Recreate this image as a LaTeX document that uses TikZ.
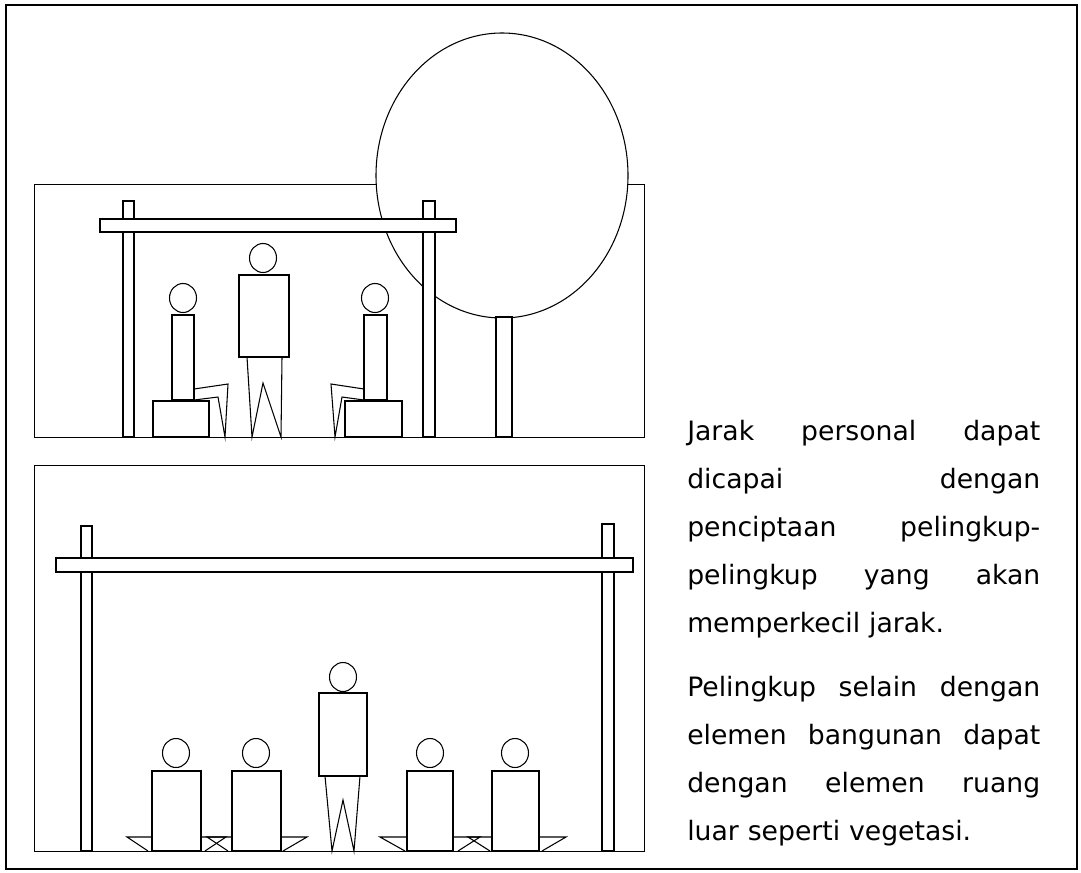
\documentclass[tikz,border=0pt]{standalone}
\usepackage{fontspec}
\setmainfont{DejaVu Sans}
\newlength\colwidth
\setlength\colwidth{264.75pt}
\newcommand\fullline[1]{\hbox to\colwidth{#1}}
\tikzset{outer/.style={draw,line width=1.9pt},
         panel/.style={draw,line width=0.6pt},
         wood/.style={draw,fill=white,line width=0.9pt},
         canopy/.style={draw,fill=white,line width=0.8pt},
         figure/.style={draw,fill=white,line width=0.8pt},
         limb/.style={draw,line width=0.8pt},
         head/.style={x radius=13.5,y radius=14.5},
         caption/.style={anchor=base west,inner sep=0pt,text width=\colwidth,
                         font=\fontsize{20}{36}\selectfont},
        }

\begin{document}
\begin{tikzpicture}[x=0.75pt,y=-0.75pt]
  \useasboundingbox (0,0) rectangle (1081,872);
  \draw[outer] (6,5) rectangle (1077,869);

  % upper scene: pergola with a tree beside it
  \draw[panel] (34,184) rectangle (644,437);
  \draw[canopy] (502,175.5) ellipse [x radius=126,y radius=142.5];
  \draw[wood] (496,317) rectangle (512,437);
  \draw[wood] (123,201) rectangle (134,437);
  \draw[wood] (423,201) rectangle (435,437);
  \draw[wood] (100,219) rectangle (456,232);

  \draw[figure] (153,401) rectangle (209,437);
  \draw[limb] (194,389) -- (228,384) -- (225,437) -- (218,397) -- (194,400);
  \draw[figure] (172,315) rectangle (194,400);
  \draw[figure] (183,298) ellipse [head];

  \draw[figure] (239,275) rectangle (289,357);
  \draw[limb] (247,357) -- (252,437) -- (263,383) -- (281,437) -- (282,357);
  \draw[figure] (263,258) ellipse [head];

  \draw[figure] (345,401) rectangle (402,437);
  \draw[limb] (364,389) -- (331,384) -- (335,437) -- (342,397) -- (364,400);
  \draw[figure] (364,315) rectangle (387,400);
  \draw[figure] (375,298) ellipse [head];

  % lower scene: wide pergola, people sitting on the floor
  \draw[panel] (34,465) rectangle (644,851);
  \draw[wood] (81,526) rectangle (92,851);
  \draw[wood] (602,524) rectangle (614,851);
  \draw[wood] (56,558) rectangle (633,572);

  \draw[limb] (152,837) -- (127,837) -- (148,851);
  \draw[limb] (201,837) -- (226,837) -- (205,851);
  \draw[figure] (152,771) rectangle (201,851);
  \draw[figure] (176,753) ellipse [head];

  \draw[limb] (232,837) -- (207,837) -- (228,851);
  \draw[limb] (281,837) -- (307,837) -- (283,851);
  \draw[figure] (232,771) rectangle (281,851);
  \draw[figure] (256,753) ellipse [head];

  \draw[figure] (319,693) rectangle (367,776);
  \draw[limb] (325,776) -- (332,851) -- (343,800) -- (354,851) -- (360,776);
  \draw[figure] (343,677) ellipse [head];

  \draw[limb] (407,837) -- (380,837) -- (405,851);
  \draw[limb] (453,837) -- (480,837) -- (458,851);
  \draw[figure] (407,771) rectangle (453,851);
  \draw[figure] (430,753) ellipse [head];

  \draw[limb] (492,837) -- (468,837) -- (490,851);
  \draw[limb] (539,837) -- (566,837) -- (542,851);
  \draw[figure] (492,771) rectangle (539,851);
  \draw[figure] (515,753) ellipse [head];

  % text column
  \node[caption] (para1) at (687,440) {%
    \fullline{Jarak\hfill personal\hfill dapat}
    \fullline{dicapai\hfill dengan}
    \fullline{penciptaan\hfill pelingkup-}
    \fullline{pelingkup\hfill yang\hfill akan}
    \fullline{memperkecil jarak.\hfill}};
  \node[caption] (para2) at (687,696) {%
    \fullline{Pelingkup\hfill selain\hfill dengan}
    \fullline{elemen\hfill bangunan\hfill dapat}
    \fullline{dengan\hfill elemen\hfill ruang}
    \fullline{luar seperti vegetasi.\hfill}};
\end{tikzpicture}
\end{document}
